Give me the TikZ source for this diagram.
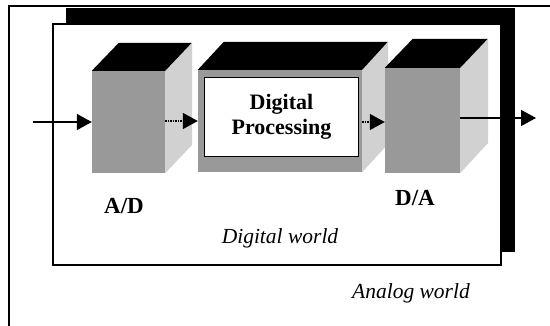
\documentclass[tikz,border=0pt]{standalone}
\usepackage{fontspec}
\setmainfont{Liberation Serif}
\usetikzlibrary{arrows.meta}
\tikzset{
  front/.style={fill=black!40, draw=none, inner sep=0pt},
  side/.style={fill=black!18, draw=none},
  topface/.style={fill=black, draw=none},
  conn/.style={line width=1.3pt, -{Triangle[length=15pt,width=16pt]}},
  dotconn/.style={line width=1.3pt, dash pattern=on 1.5pt off 1pt, -{Triangle[length=15pt,width=16pt]}},
  lbl/.style={font=\fontsize{23}{25}\selectfont\bfseries, inner sep=0pt},
  world/.style={font=\fontsize{21.5}{24}\selectfont\itshape, inner sep=0pt},
}
\begin{document}
\begin{tikzpicture}[x=1pt,y=-1pt]
\useasboundingbox (0,0) rectangle (550,326);
\fill[white] (0,0) rectangle (550,326);
% outer (analog) frame, cut by the picture edge
\coordinate (otl) at (9,6);
\coordinate (otr) at (550,6);
\coordinate (obl) at (9,326);
\draw[line width=1.2pt] (otr) -- (otl) -- (obl);
% digital world box with shadow
\fill[black] (66,8) rectangle (515,252);
\node[draw, line width=1.5pt, fill=white, minimum width=448pt, minimum height=241pt, inner sep=0pt] (dw) at (277,144.5) {};
% A/D cube
\node[front, minimum width=73pt, minimum height=102pt] (ad) at (128.5,122) {};
\fill[side] (ad.north east) -- ++(27,-28) -- ++(0,102) -- (ad.south east) -- cycle;
\fill[topface] (ad.north west) -- ++(27,-28) -- ++(73,0) -- (ad.north east) -- cycle;
% Digital processing cube
\node[front, minimum width=164pt, minimum height=102pt] (dp) at (280,121) {};
\fill[side] (dp.north east) -- ++(26,-28) -- ++(0,102) -- (dp.south east) -- cycle;
\fill[topface] (dp.north west) -- ++(26,-28) -- ++(164,0) -- (dp.north east) -- cycle;
\node[draw, line width=1.6pt, fill=white, minimum width=154pt, minimum height=79pt, inner sep=0pt, align=center,
      font=\fontsize{22}{25}\selectfont\bfseries] (proc) at (281.5,117) {Digital\\Processing};
% D/A cube
\node[front, minimum width=75pt, minimum height=105pt] (da) at (422.5,120.5) {};
\fill[side] (da.north east) -- ++(28,-29) -- ++(0,104) -- (da.south east) -- cycle;
\fill[topface] (da.north west) -- ++(28,-29) -- ++(75,0) -- (da.north east) -- cycle;
% connectors
\coordinate (in) at (33,122);
\coordinate (out) at (536,118);
\draw[conn] (in) -- (ad.west |- in);
\draw[dotconn] (ad.east |- 0,121) -- (dp.west |- 0,121);
\draw[dotconn] (dp.east |- 0,122) -- (da.west |- 0,122);
\draw[conn] (da.east |- out) -- (out);
% labels
\node[lbl] (adl) at (124,206) {A/D};
\node[lbl] (dal) at (415,198) {D/A};
\node[world] (dwl) at (280,238) {Digital world};
\node[world] (awl) at (411,293) {Analog world};
\end{tikzpicture}
\end{document}
